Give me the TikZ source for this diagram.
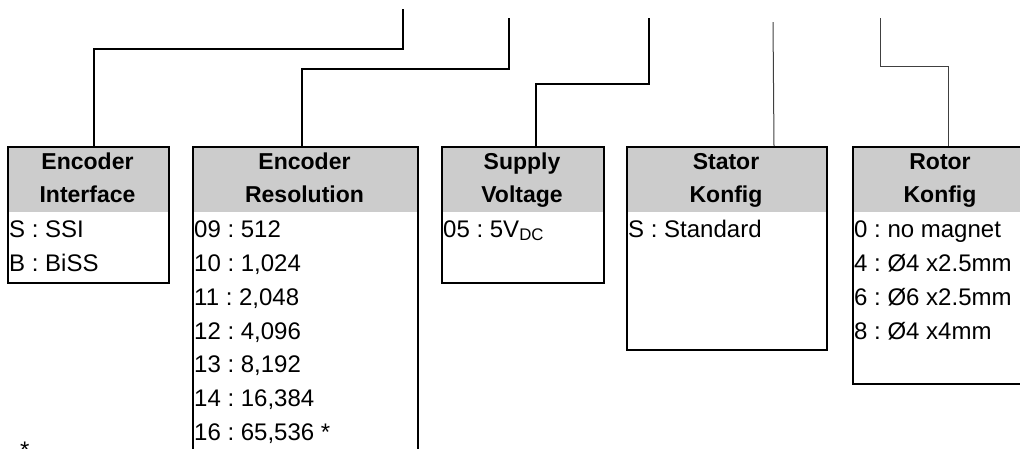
\documentclass[tikz,border=0pt]{standalone}
\usepackage{fontspec}
\setmainfont{Liberation Sans}
\usepackage{tikz}
\definecolor{hdrgray}{RGB}{204,204,204}
\frenchspacing

\begin{document}
\begin{tikzpicture}[x=1pt, y=-1pt,
    box/.style={draw, line width=2pt, anchor=north west, inner sep=0pt},
    hdr/.style={font=\fontsize{23}{33}\selectfont\bfseries, align=center, inner sep=0pt},
    item/.style={font=\fontsize{24}{28}\selectfont, anchor=base west, inner sep=0pt},
    link/.style={line width=2pt},
    thinlink/.style={line width=1pt, black!75}]
    \clip (0,0) rectangle (1020,448);
    % header backgrounds
    \fill[hdrgray] (7,146) rectangle (168,212);
    \fill[hdrgray] (192,146) rectangle (417,212);
    \fill[hdrgray] (441,146) rectangle (603,212);
    \fill[hdrgray] (626,146) rectangle (826,212);
    \fill[hdrgray] (852,146) rectangle (1028,212);
    % boxes
    \node[box, minimum width=161pt, minimum height=136pt] (iface) at (7,146) {};
    \node[box, minimum width=225pt, minimum height=314pt] (resol) at (192,146) {};
    \node[box, minimum width=162pt, minimum height=136pt] (supply) at (441,146) {};
    \node[box, minimum width=200pt, minimum height=203pt] (stator) at (626,146) {};
    \node[box, minimum width=176pt, minimum height=237pt] (rotor) at (852,146) {};
    % headers
    \node[hdr] (iface-h) at (87.5,179) {Encoder\strut\\Interface\strut};
    \node[hdr] (resol-h) at (304.5,179) {Encoder\strut\\Resolution\strut};
    \node[hdr] (supply-h) at (522,179) {Supply\strut\\Voltage\strut};
    \node[hdr] (stator-h) at (726,179) {Stator\strut\\Konfig\strut};
    \node[hdr] (rotor-h) at (940,179) {Rotor\strut\\Konfig\strut};
    % entries
    \node[item] (iface-s) at (9,237) {S : SSI};
    \node[item] (iface-b) at (9,271) {B : BiSS};
    \node[item] (res09) at (194,237) {09 : 512};
    \node[item] (res10) at (194,271) {10 : 1,024};
    \node[item] (res11) at (194,305) {11 : 2,048};
    \node[item] (res12) at (194,339) {12 : 4,096};
    \node[item] (res13) at (194,372) {13 : 8,192};
    \node[item] (res14) at (194,406) {14 : 16,384};
    \node[item] (res16) at (194,440) {16 : 65,536 *};
    \node[item] (sup05) at (443,237) {05 : 5V\textsubscript{DC}};
    \node[item] (stat-s) at (628,237) {S : Standard};
    \node[item] (rot0) at (854,237) {0 : no magnet};
    \node[item] (rot4) at (854,271) {4 : Ø4 x2.5mm};
    \node[item] (rot6) at (854,305) {6 : Ø6 x2.5mm};
    \node[item] (rot8) at (854,339) {8 : Ø4 x4mm};
    \node[item] (note) at (20,458) {*};
    % leader lines
    \coordinate (t1) at (403,9);
    \coordinate (t2) at (509,18);
    \coordinate (t3) at (649,18);
    \coordinate (t4) at (773,22);
    \coordinate (t5) at (880,18);
    \draw[link] (t1) -- ++(0,40) -| ([xshift=5.5pt]iface.north);
    \draw[link] (t2) -- ++(0,51) -| ([xshift=-3.5pt]resol.north);
    \draw[link] (t3) -- ++(0,66) -| ([xshift=13pt]supply.north);
    \draw[thinlink] (t4) -- ([xshift=47pt]stator.north);
    \draw[thinlink] (t5) -- ++(0,48) -| ([xshift=7pt]rotor.north);
\end{tikzpicture}
\end{document}
